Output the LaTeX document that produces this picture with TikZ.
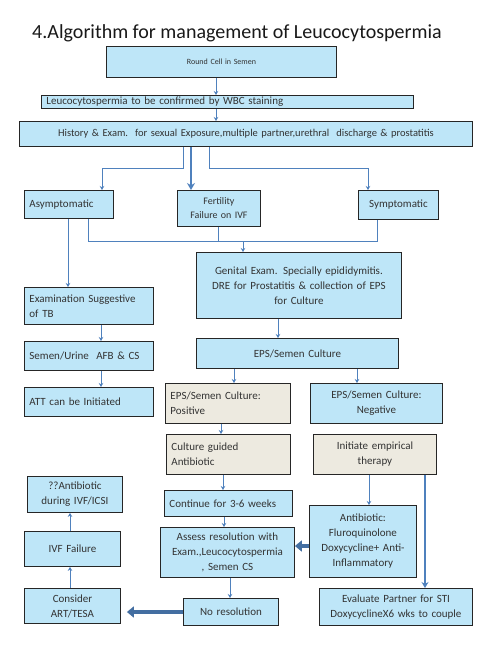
\documentclass[tikz,border=0pt]{standalone}
\usepackage{fontspec}
\setmainfont{Carlito}
\usetikzlibrary{positioning}
\usetikzlibrary{arrows.meta}

\definecolor{boxblue}{HTML}{BEE6F8}
\definecolor{boxtan}{HTML}{EDEAE0}
\definecolor{arrowblue}{HTML}{4F81BD}
\definecolor{textgray}{HTML}{333333}

\begin{document}
\begin{tikzpicture}[
            x=1pt, y=-1pt,
            block/.style={
                draw=black!85,
                line width=0.9pt,
                fill=boxblue,
                text=textgray,
                font=\fontsize{11}{15}\selectfont,
                inner xsep=5pt,
                inner ysep=2pt,
                anchor=north west,
                align=center
            },
            tanblock/.style={block, fill=boxtan},
            arrow/.style={draw=arrowblue, line width=0.8pt, -{Stealth[length=4pt,width=4.5pt]}},
            bigarrow/.style={draw=arrowblue, line width=1.8pt, -{Stealth[length=7pt,width=8pt]}},
            fatarrow/.style={draw=arrowblue!85!black, line width=4.5pt, -{Triangle[length=7pt,width=11pt]}},
            link/.style={draw=arrowblue, line width=0.8pt}
        ]

        \path[use as bounding box, fill=white] (0,0) rectangle (500,651);

        \node[anchor=base west, inner sep=0pt, text=black!90, font=\fontsize{20}{22}\selectfont] (title) at (32,38)
            {4.Algorithm for management of Leucocytospermia};

        \node[block, text width=220pt, minimum height=31pt, font=\fontsize{8}{10}\selectfont] (round) at (106,46) {Round Cell in Semen};

        \node[block, align=left, text width=362pt, minimum height=13pt, inner ysep=0.5pt] (leuco) at (41,95)
            {Leucocytospermia to be confirmed by WBC staining};

        \node[block, text width=443pt, minimum height=25pt, font=\fontsize{10.5}{13}\selectfont] (hist) at (19,121)
            {History \& Exam.\ \ for sexual Exposure,multiple\ partner,urethral\ \ discharge \& prostatitis};

        \node[block, align=left, text width=79pt, minimum height=28pt] (asym) at (24,190) {Asymptomatic};

        \node[block, text width=73pt, minimum height=36pt, font=\fontsize{10}{14}\selectfont] (fert) at (177,190) {Fertility\\Failure on IVF};

        \node[block, text width=70pt, minimum height=29pt] (symp) at (358,190) {Symptomatic};

        \node[block, text width=195pt, minimum height=66pt] (genital) at (196,252)
            {Genital Exam. Specially epididymitis.\\
            DRE for Prostatitis \& collection of EPS\\
            for Culture};

        \node[block, align=left, text width=119pt, minimum height=37pt] (exam) at (24,287)
            {Examination Suggestive\\of TB};

        \node[block, align=left, text width=119pt, minimum height=29pt] (semen) at (24,341)
            {Semen/Urine\ \ AFB \& CS};

        \node[block, text width=192pt, minimum height=30pt] (culture) at (196,338) {EPS/Semen Culture};

        \node[block, align=left, text width=119pt, minimum height=29pt] (att) at (24,387) {ATT can be Initiated};

        \node[tanblock, align=left, text width=115pt, minimum height=40pt] (pos) at (165,383)
            {EPS/Semen Culture:\\Positive};

        \node[block, text width=122pt, minimum height=40pt] (neg) at (310,383)
            {EPS/Semen Culture:\\Negative};

        \node[tanblock, align=left, text width=114pt, minimum height=40pt] (guided) at (166,434)
            {Culture guided\\Antibiotic};

        \node[tanblock, text width=113pt, minimum height=40pt] (initiate) at (313,434)
            {Initiate empirical\\therapy};

        \node[block, text width=85pt, minimum height=36pt] (abxivf) at (27,476)
            {??Antibiotic\\during IVF/ICSI};

        \node[block, align=left, text width=118pt, minimum height=26pt] (cont) at (164,490)
            {Continue for 3-6 weeks};

        \node[block, text width=97pt, minimum height=72pt] (antib) at (309,505)
            {Antibiotic:\\
            Fluroquinolone\\
            Doxycycline+ Anti-\\
            Inflammatory};

        \node[block, text width=124pt, minimum height=50pt] (assess) at (160,527)
            {Assess resolution with\\
            Exam.,Leucocytospermia\\
            , Semen CS};

        \node[block, text width=86pt, minimum height=35pt] (ivf) at (24,531) {IVF Failure};

        \node[block, text width=86pt, minimum height=35pt] (consider) at (24,588) {Consider\\ART/TESA};

        \node[block, text width=85pt, minimum height=27pt] (nores) at (183,598) {No resolution};

        \node[block, text width=143pt, minimum height=37pt] (eval) at (319,588)
            {Evaluate Partner for STI\\
            DoxycyclineX6 wks to couple};

        % top chain
        \draw[arrow] (round.south -| 216,0) -- (leuco.north -| 216,0);
        \draw[arrow] (leuco.south -| 216,0) -- (hist.north -| 216,0);

        % history splits three ways
        \draw[arrow] (hist.south -| 183,0) -- (183,168) -| (asym.north -| 102,0);
        \draw[bigarrow] (hist.south -| 191,0) -- (fert.north -| 191,0);
        \draw[arrow] (hist.south -| 209,0) -- (209,168) -| (symp.north -| 368,0);

        % the three rejoin towards genital exam
        \coordinate (join) at (243,241);
        \draw[link] (asym.south -| 88,0) |- (join -| 377,0) -- (symp.south -| 377,0);
        \draw[link] (fert.south -| 218,0) -- (join -| 218,0);
        \draw[arrow] (join) -- (genital.north -| join);

        % TB branch
        \draw[arrow] (asym.south -| 68,0) -- (exam.north -| 68,0);
        \draw[arrow] (exam.south -| 101,0) -- (semen.north -| 101,0);
        \draw[arrow] (semen.south -| 101,0) -- (att.north -| 101,0);

        % culture branch
        \draw[arrow] (genital.south -| 278,0) -- (culture.north -| 278,0);
        \draw[arrow] (culture.south -| 234,0) -- (pos.north -| 234,0);
        \draw[arrow] (culture.south -| 357,0) -- (neg.north -| 357,0);
        \draw[arrow] (pos.south -| 221,0) -- (guided.north -| 221,0);
        \draw[arrow] (guided.south -| 223,0) -- (cont.north -| 223,0);
        \draw[arrow] (cont.south -| 224,0) -- (assess.north -| 224,0);
        \draw[arrow] (initiate.south -| 369,0) -- (antib.north -| 369,0);
        \draw[arrow, line width=1.3pt, -{Stealth[length=6pt,width=7pt]}] (initiate.south -| 425,0) -- (eval.north -| 425,0);
        \draw[fatarrow] (antib.west |- 0,546) -- (assess.east |- 0,546);
        \draw[arrow] (assess.south -| 230,0) -- (nores.north -| 230,0);

        % no resolution
        \draw[fatarrow] (nores.west |- 0,612) -- ([xshift=6pt]consider.east |- 0,612);
        \draw[arrow] (consider.north -| 70,0) -- (ivf.south -| 70,0);
        \draw[arrow] (ivf.north -| 70,0) -- (abxivf.south -| 70,0);

    \end{tikzpicture}
\end{document}
